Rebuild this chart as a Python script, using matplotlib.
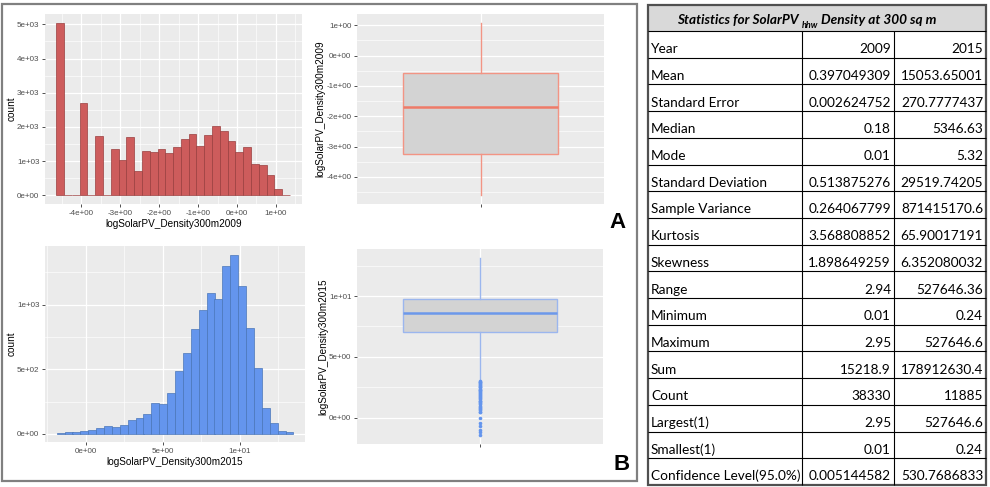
import matplotlib
matplotlib.use('Agg')
import matplotlib.pyplot as plt
from matplotlib.ticker import MultipleLocator, FuncFormatter
from matplotlib.patches import Rectangle

# --- data ---
# 2009: histogram of log density, bin centres and counts
bins_2009 = [-4.54, -4.34, -4.14, -3.94, -3.74, -3.54, -3.34, -3.14, -2.94, -2.74,
             -2.54, -2.34, -2.14, -1.94, -1.74, -1.54, -1.34, -1.14, -0.94, -0.74,
             -0.54, -0.34, -0.14, 0.06, 0.26, 0.46, 0.66, 0.86, 1.06, 1.26]
counts_2009 = [5050, 0, 0, 2700, 0, 1750, 0, 1370, 1030, 1710,
               720, 1290, 1260, 1370, 1240, 1420, 1650, 1800, 1450, 1760,
               2020, 1890, 1600, 1280, 1400, 930, 900, 600, 200, 0]
binw_2009 = 0.2

# 2015
bins_2015 = [-1.62, -1.11, -0.60, -0.09, 0.42, 0.94, 1.45, 1.96, 2.47, 2.99,
             3.50, 4.01, 4.52, 5.04, 5.55, 6.06, 6.57, 7.08, 7.60, 8.11,
             8.62, 9.13, 9.65, 10.16, 10.67, 11.18, 11.69, 12.21, 12.72, 13.23]
counts_2015 = [10, 15, 16, 24, 32, 48, 60, 54, 70, 111,
               125, 154, 236, 230, 316, 487, 627, 813, 961, 1088,
               1044, 1298, 1389, 1142, 824, 510, 199, 83, 23, 13]
binw_2015 = 0.512

# box plot summaries
box_2009 = dict(whislo=-4.58, q1=-3.23, med=-1.71, q3=-0.56, whishi=1.08, fliers=[])
box_2015 = dict(whislo=3.05, q1=7.06, med=8.57, q3=9.75, whishi=13.13)
outliers_2015 = [3.0, 2.95, 2.9, 2.85, 2.8, 2.7, 2.6, 2.55, 2.5, 2.4, 2.3, 2.25, 2.2,
                 2.1, 2.0, 1.95, 1.9, 1.8, 1.7, 1.6, 1.5, 1.4, 1.35, 1.3, 1.2, 1.1,
                 1.0, 0.9, 0.8, 0.7, 0.6, 0.5, 0.45, 0.0, -0.41, -0.69, -1.05, -1.2, -1.43]

# statistics table
stat_title = ["Statistics for SolarPV ", "hhw", " Density at 300 sq m"]
stat_names = ["Year", "Mean", "Standard Error", "Median", "Mode", "Standard Deviation",
              "Sample Variance", "Kurtosis", "Skewness", "Range", "Minimum", "Maximum",
              "Sum", "Count", "Largest(1)", "Smallest(1)", "Confidence Level(95.0%)"]
stat_2009 = ["2009", "0.397049309", "0.002624752", "0.18", "0.01", "0.513875276",
             "0.264067799", "3.568808852", "1.898649259", "2.94", "0.01", "2.95",
             "15218.9", "38330", "2.95", "0.01", "0.005144582"]
stat_2015 = ["2015", "15053.65001", "270.7777437", "5346.63", "5.32", "29519.74205",
             "871415170.6", "65.90017191", "6.352080032", "527646.36", "0.24", "527646.6",
             "178912630.4", "11885", "527646.6", "0.24", "530.7686833"]

W, H = 990, 487
plt.rcParams['font.family'] = ['Liberation Sans', 'DejaVu Sans']
fig = plt.figure(figsize=(W / 100, H / 100), dpi=100)


def px_axes(x0, y0, x1, y1):
    return fig.add_axes([x0 / W, 1 - y1 / H, (x1 - x0) / W, (y1 - y0) / H])


sci = FuncFormatter(lambda v, p: f"{v:.0e}")


def gg_style(ax, xmaj=None, ymaj=None):
    ax.set_facecolor('#EBEBEB')
    for s in ax.spines.values():
        s.set_visible(False)
    if xmaj:
        ax.xaxis.set_major_locator(MultipleLocator(xmaj))
        ax.xaxis.set_minor_locator(MultipleLocator(xmaj / 2))
        ax.xaxis.set_major_formatter(sci)
    ax.yaxis.set_major_locator(MultipleLocator(ymaj))
    ax.yaxis.set_minor_locator(MultipleLocator(ymaj / 2))
    ax.yaxis.set_major_formatter(sci)
    ax.grid(which='major', color='white', lw=0.9)
    ax.grid(which='minor', color='white', lw=0.45)
    ax.set_axisbelow(True)
    ax.tick_params(which='major', length=2.5, width=0.6, color='#333333',
                   labelsize=5.8, labelcolor='#4D4D4D', pad=1.5)
    ax.tick_params(which='minor', length=0)


# --- histogram 2009 ---
ax1 = px_axes(45, 14, 302, 204)
ax1.bar(bins_2009, counts_2009, width=binw_2009, color='#CD5C5C',
        edgecolor='#9A3E3E', linewidth=0.5)
ax1.set_xlim(-4.93, 1.67)
ax1.set_ylim(-252, 5302)
gg_style(ax1, 1, 1000)
ax1.set_xlabel('logSolarPV_Density300m2009', fontsize=7.2, labelpad=1.5)
ax1.set_ylabel('count', fontsize=7.2, labelpad=0.5)

# --- histogram 2015 ---
ax2 = px_axes(45, 246, 305, 442)
ax2.bar(bins_2015, counts_2015, width=binw_2015, color='#6495ED',
        edgecolor='#4A76B8', linewidth=0.5)
ax2.set_xlim(-2.64, 14.24)
ax2.set_ylim(-62, 1455)
gg_style(ax2, 5, 500)
ax2.set_xlabel('logSolarPV_Density300m2015', fontsize=7.2, labelpad=1.5)
ax2.set_ylabel('count', fontsize=7.2, labelpad=0.5)

# --- box plot 2009 ---
ax3 = px_axes(357, 14, 604, 204)
ax3.bxp([box_2009], positions=[1], widths=0.75, patch_artist=True, showfliers=False,
        boxprops=dict(facecolor='#D3D3D3', edgecolor='#F29484', lw=1.0),
        whiskerprops=dict(color='#F29484', lw=1.0), capprops=dict(lw=0),
        medianprops=dict(color='#EE7A68', lw=1.8))
ax3.set_xlim(0.4, 1.6)
ax3.set_ylim(-4.89, 1.37)
gg_style(ax3, None, 1)
ax3.set_xticks([1])
ax3.set_xticklabels([''])
ax3.set_ylabel('logSolarPV_Density300m2009', fontsize=7.2, labelpad=0.5)

# --- box plot 2015 ---
ax4 = px_axes(357, 249, 603, 444)
box_2015['fliers'] = outliers_2015
ax4.bxp([box_2015], positions=[1], widths=0.75, patch_artist=True, showfliers=True,
        boxprops=dict(facecolor='#D3D3D3', edgecolor='#9BB6EE', lw=1.0),
        whiskerprops=dict(color='#9BB6EE', lw=1.0), capprops=dict(lw=0),
        medianprops=dict(color='#6C98EA', lw=1.8),
        flierprops=dict(marker='o', markerfacecolor='#6495ED', markeredgecolor='none',
                        markersize=2.6))
ax4.set_xlim(0.4, 1.6)
ax4.set_ylim(-2.16, 13.87)
gg_style(ax4, None, 5)
ax4.set_xticks([1])
ax4.set_xticklabels([''])
ax4.set_ylabel('logSolarPV_Density300m2015', fontsize=7.2, labelpad=0.5)

# --- overlay: frame, panel letters, statistics table ---
ov = fig.add_axes([0, 0, 1, 1], zorder=-1)
ov.set_xlim(0, W)
ov.set_ylim(H, 0)
ov.axis('off')
ov.add_patch(Rectangle((2, 4), 635, 477, fill=False, edgecolor='#808080', lw=1.6))
ov.text(618, 223, 'A', fontsize=16, fontweight='bold', ha='center', va='center')
ov.text(622, 465, 'B', fontsize=16, fontweight='bold', ha='center', va='center')

tx0, tx1, c1, c2 = 648, 986, 802, 894
top, head_h, row_h = 5, 26, 26.7
ov.add_patch(Rectangle((tx0, top), tx1 - tx0, head_h, facecolor='#D9D9D9', edgecolor='none'))
nrows = len(stat_names)
y_lines = [top + head_h + k * row_h for k in range(nrows + 1)]
ov.hlines(y_lines[:-1], tx0, tx1, color='black', lw=0.8)
ov.vlines([c1, c2], y_lines[0], y_lines[-1], color='black', lw=0.8)
ov.add_patch(Rectangle((tx0, top), tx1 - tx0, y_lines[-1] - top, fill=False,
                       edgecolor='#505050', lw=1.6))

tfont = ['Lato', 'DejaVu Sans']
fs = 9.8
t1 = ov.text(677, 24, stat_title[0], family=tfont, fontsize=fs, fontweight='bold',
             style='italic', ha='left', va='baseline')
t2 = ov.annotate(stat_title[1], xy=(1, 0), xycoords=t1, family=tfont, fontsize=6.5,
                 fontweight='bold', style='italic', ha='left', va='center')
ov.annotate(stat_title[2], xy=(1, 0), xycoords=(t2, t1), family=tfont, fontsize=fs,
            fontweight='bold', style='italic', ha='left', va='bottom')

for i in range(nrows):
    yb = y_lines[i + 1] - 4.5
    ov.text(651, yb, stat_names[i], family=tfont, fontsize=fs, ha='left', va='baseline')
    ov.text(c2 - 3, yb, stat_2009[i], family=tfont, fontsize=fs, ha='right', va='baseline')
    ov.text(tx1 - 3, yb, stat_2015[i], family=tfont, fontsize=fs, ha='right', va='baseline')

fig.savefig('out.png', dpi=100)
